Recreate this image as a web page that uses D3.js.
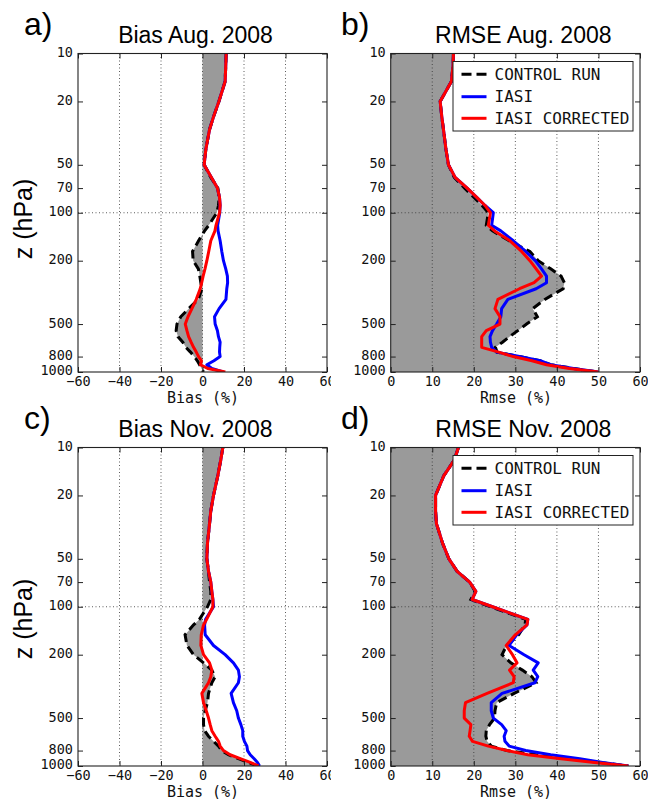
<!DOCTYPE html>
<html>
<head>
<meta charset="utf-8">
<script src="https://cdn.jsdelivr.net/npm/d3@7"></script>
<style>
  body { margin: 0; background: #fff; }
  svg { display: block; }
</style>
</head>
<body>
<svg id="fig" width="648" height="799"></svg>
<script>
// Pressure levels (hPa) shared by every profile
const levels = [10, 12, 15, 20, 25, 30, 40, 50, 60, 70, 80, 90, 100, 120, 130, 150, 175, 200,
  225, 250, 275, 300, 350, 400, 450, 500, 550, 600, 650, 700, 750, 800, 850, 900, 950, 1000];

// Bias, August 2008 (%)
const biasAugControl = [11.4, 11.2, 10.9, 7.9, 5.3, 3.4, 1.6, 0.8, 4.0, 7.4, 8.0, 7.7, 6.9, 3.0, 1.0, -1.9, -4.8, -4.5,
  -2.0, -1.3, -0.8, -0.3, -2.0, -6.7, -10.5, -12.3, -12.7, -11.8, -9.5, -8.0, -5.8, -4.0, -2.5, -1.4, -0.5, 0.5];
const biasAugIasi = [11.4, 11.2, 10.9, 7.9, 5.3, 3.4, 1.6, 0.8, 4.3, 7.2, 8.2, 8.5, 8.3, 7.3, 7.5, 8.5, 9.3, 10.1,
  11.2, 12.0, 12.1, 11.7, 11.3, 8.0, 5.8, 6.1, 7.2, 7.7, 8.5, 8.3, 8.2, 8.5, 5.5, 2.1, 4.5, 10.0];
const biasAugCorrected = [11.4, 11.2, 10.9, 7.9, 5.3, 3.4, 1.6, 0.8, 4.3, 7.2, 8.2, 8.5, 8.2, 6.5, 6.0, 4.0, 3.0, 2.1,
  1.2, 0.3, -0.4, -1.1, -3.0, -5.1, -7.0, -8.3, -7.5, -6.7, -5.5, -4.3, -3.0, -1.9, -0.5, -1.0, 2.5, 11.0];

// RMSE, August 2008 (%)
const rmseAugControl = [15.1, 15.0, 14.6, 11.9, 12.3, 12.7, 13.3, 13.9, 15.3, 17.8, 20.0, 22.0, 23.5, 23.0, 24.5, 28.5, 33.5, 35.5,
  38.5, 41.0, 41.8, 41.5, 37.1, 34.2, 35.3, 32.7, 30.6, 28.6, 26.9, 25.2, 25.6, 31.0, 36.0, 38.5, 44.0, 50.0];
const rmseAugIasi = [15.1, 15.0, 14.6, 11.9, 12.3, 12.7, 13.3, 13.9, 15.5, 18.4, 20.7, 22.7, 24.7, 24.3, 26.5, 29.5, 32.5, 34.8,
  36.3, 37.5, 37.5, 35.0, 28.2, 26.7, 26.5, 25.5, 24.5, 23.9, 24.0, 24.3, 25.5, 31.0, 36.0, 38.5, 44.0, 50.0];
const rmseAugCorrected = [15.1, 15.0, 14.6, 11.9, 12.3, 12.7, 13.3, 13.9, 15.5, 18.4, 20.7, 22.7, 24.0, 23.5, 25.0, 28.7, 31.5, 33.5,
  35.0, 36.3, 34.5, 31.0, 25.8, 25.1, 26.3, 26.3, 23.0, 21.9, 21.9, 21.9, 26.0, 29.5, 34.0, 37.5, 43.0, 50.0];

// Bias, November 2008 (%)
const biasNovControl = [9.8, 8.8, 7.4, 5.3, 4.0, 3.4, 2.4, 2.1, 2.9, 3.4, 4.0, 4.0, 2.4, -1.5, -4.3, -8.4, -7.5, -4.3,
  0.5, 4.5, 6.1, 4.5, 2.9, 2.4, 1.3, 0.5, 0.5, 1.0, 2.9, 5.3, 7.7, 9.3, 12.5, 17.3, 22.2, 26.5];
const biasNovIasi = [9.8, 8.8, 7.4, 5.3, 4.0, 3.4, 2.4, 2.1, 2.9, 4.0, 4.5, 5.0, 5.3, 1.5, 1.0, 1.3, 5.3, 10.9,
  14.9, 17.3, 17.8, 17.3, 13.8, 14.9, 16.5, 17.3, 18.5, 19.4, 19.4, 20.2, 21.4, 21.7, 23.0, 24.9, 26.5, 27.5];
const biasNovCorrected = [9.8, 8.8, 7.4, 5.3, 4.0, 3.4, 2.4, 2.1, 2.9, 4.0, 4.5, 5.0, 5.0, 2.0, 0.5, -0.6, -0.8, 0.5,
  3.4, 4.5, 4.0, 2.9, -0.3, 0.5, 1.8, 2.9, 3.7, 4.5, 6.1, 7.7, 8.5, 10.1, 13.3, 18.2, 23.0, 27.0];

// RMSE, November 2008 (%)
const rmseNovControl = [16.3, 15.3, 12.8, 10.8, 10.8, 11.0, 12.5, 14.0, 16.0, 19.0, 20.3, 19.3, 24.0, 32.5, 32.3, 30.8, 27.9, 26.8,
  28.9, 31.7, 34.0, 35.0, 29.7, 25.5, 25.1, 25.0, 23.8, 23.0, 22.9, 23.2, 24.2, 28.0, 35.0, 43.0, 50.5, 57.2];
const rmseNovIasi = [16.3, 15.3, 12.8, 10.8, 10.8, 11.0, 12.5, 14.0, 16.0, 19.0, 20.5, 19.6, 24.5, 33.0, 32.8, 30.3, 28.5, 32.1,
  35.5, 34.3, 35.4, 34.7, 26.8, 24.2, 24.2, 24.7, 26.7, 27.8, 27.3, 27.5, 28.5, 32.5, 38.5, 45.5, 51.0, 57.2];
const rmseNovCorrected = [16.3, 15.3, 12.8, 10.8, 10.8, 11.0, 12.5, 14.0, 16.0, 19.0, 20.5, 19.6, 24.5, 33.0, 32.8, 30.0, 27.8, 29.3,
  30.4, 28.6, 29.7, 29.5, 23.2, 18.0, 17.7, 17.7, 19.3, 19.1, 18.9, 19.7, 23.5, 28.0, 33.0, 41.0, 49.0, 57.2];

// Axis ticks and labels
const pressureTicks = [10, 20, 50, 70, 100, 200, 500, 800, 1000];
const biasTicks = [-60, -40, -20, 0, 20, 40, 60];
const rmseTicks = [0, 10, 20, 30, 40, 50, 60];
const panelLetters = ["a)", "b)", "c)", "d)"];
const panelTitles = ["Bias Aug. 2008", "RMSE Aug. 2008", "Bias Nov. 2008", "RMSE Nov. 2008"];
const xAxisLabels = ["Bias (%)", "Rmse (%)"];
const yAxisLabel = "z (hPa)";
const legendLabels = ["CONTROL RUN", "IASI", "IASI CORRECTED"];

// ---- layout ----
const MONO = "'DejaVu Sans Mono', monospace";
const SANS = "'Liberation Sans', Arial, sans-serif";
const rows = [
  { top: 53.5, bottom: 372, off: 0, ylabY: 219 },
  { top: 447.5, bottom: 766, off: 394, ylabY: 619 }
];
const cols = [
  { x0: 78, x1: 327, domain: [-60, 60], ticks: biasTicks, titleX: 195.5, letterX: 24, labelX: 203, legend: false },
  { x0: 390.7, x1: 640, domain: [0, 60], ticks: rmseTicks, titleX: 523.3, letterX: 341, labelX: 516, legend: true }
];
const series = [
  [biasAugControl, biasAugIasi, biasAugCorrected],
  [rmseAugControl, rmseAugIasi, rmseAugCorrected],
  [biasNovControl, biasNovIasi, biasNovCorrected],
  [rmseNovControl, rmseNovIasi, rmseNovCorrected]
];
const FILL = "#9a9a9a";
const DASH = "9,5";

const svg = d3.select("#fig");
const defs = svg.append("defs");
const fmtMinus = d => (d < 0 ? "\u2212" + Math.abs(d) : String(d));

// tick labels of the left column stop where the right column begins
defs.append("clipPath").attr("id", "leftTickClip").append("rect")
  .attr("x", 0).attr("y", -20).attr("width", 331).attr("height", 60);

function drawPanel(idx) {
  const r = rows[Math.floor(idx / 2)];
  const c = cols[idx % 2];
  const [control, iasi, corrected] = series[idx];
  const g = svg.append("g");

  const x = d3.scaleLinear().domain(c.domain).range([c.x0, c.x1]);
  const y = d3.scaleLog().domain([10, 1000]).range([r.top, r.bottom]);

  const clipId = "clip" + idx;
  defs.append("clipPath").attr("id", clipId)
    .append("rect").attr("x", c.x0).attr("y", r.top)
    .attr("width", c.x1 - c.x0).attr("height", r.bottom - r.top);

  const plot = g.append("g").attr("clip-path", `url(#${clipId})`);
  const rowsData = levels.map((p, i) => ({ p, ctl: control[i], ia: iasi[i], co: corrected[i] }));

  // shaded region between zero and the control run
  plot.append("path").datum(rowsData)
    .attr("fill", FILL)
    .attr("d", d3.area().y(d => y(d.p)).x0(x(0)).x1(d => x(d.ctl)));

  // dotted grid
  plot.selectAll("line.vg").data(c.ticks.slice(1, -1)).join("line")
    .attr("x1", d => x(d)).attr("x2", d => x(d)).attr("y1", r.top).attr("y2", r.bottom)
    .attr("stroke", "#333").attr("stroke-width", 0.8).attr("stroke-dasharray", "1,2.5");
  plot.append("line")
    .attr("x1", c.x0).attr("x2", c.x1).attr("y1", y(100)).attr("y2", y(100))
    .attr("stroke", "#333").attr("stroke-width", 0.8).attr("stroke-dasharray", "1,2.5");

  const line = key => d3.line().x(d => x(d[key])).y(d => y(d.p));
  plot.append("path").datum(rowsData).attr("fill", "none")
    .attr("stroke", "#000").attr("stroke-width", 3).attr("stroke-dasharray", DASH)
    .attr("d", line("ctl"));
  plot.append("path").datum(rowsData).attr("fill", "none")
    .attr("stroke", "#0000ff").attr("stroke-width", 3).attr("stroke-linejoin", "round")
    .attr("d", line("ia"));
  plot.append("path").datum(rowsData).attr("fill", "none")
    .attr("stroke", "#ff0000").attr("stroke-width", 3).attr("stroke-linejoin", "round")
    .attr("d", line("co"));

  // axes with inward ticks
  const styleAxis = sel => {
    sel.select(".domain").remove();
    sel.selectAll(".tick line").attr("stroke", "#222").attr("stroke-width", 1);
    sel.selectAll(".tick text").attr("font-family", MONO).attr("font-size", "13.5px").attr("fill", "#111");
  };
  g.append("g").attr("transform", `translate(${c.x0},0)`)
    .call(d3.axisLeft(y).tickValues(pressureTicks).tickFormat(d3.format("d")).tickSizeInner(-5).tickSizeOuter(0).tickPadding(5))
    .call(styleAxis)
    .call(sel => sel.selectAll(".tick text").attr("dy", "0.22em"));
  g.append("g").attr("transform", `translate(${c.x1},0)`)
    .call(d3.axisRight(y).tickValues(pressureTicks).tickFormat("").tickSizeInner(-5).tickSizeOuter(0))
    .call(styleAxis);
  const bottomAxis = g.append("g").attr("transform", `translate(0,${r.bottom})`)
    .call(d3.axisBottom(x).tickValues(c.ticks).tickFormat(fmtMinus).tickSizeInner(-5).tickSizeOuter(0).tickPadding(4))
    .call(styleAxis);
  if (idx % 2 === 0) bottomAxis.attr("clip-path", "url(#leftTickClip)");
  g.append("g").attr("transform", `translate(0,${r.top})`)
    .call(d3.axisTop(x).tickValues(c.ticks).tickFormat("").tickSizeInner(-5).tickSizeOuter(0))
    .call(styleAxis);

  // frame
  g.append("rect").attr("x", c.x0).attr("y", r.top)
    .attr("width", c.x1 - c.x0).attr("height", r.bottom - r.top)
    .attr("fill", "none").attr("stroke", "#222").attr("stroke-width", 1.1);

  // texts
  g.append("text").attr("x", c.titleX).attr("y", r.off + 42.7)
    .attr("text-anchor", "middle").attr("font-family", SANS).attr("font-size", "23px")
    .attr("fill", "#000").text(panelTitles[idx]);
  g.append("text").attr("x", c.letterX).attr("y", r.off + 34.5)
    .attr("font-family", SANS).attr("font-size", "32px").attr("fill", "#000")
    .text(panelLetters[idx]);
  g.append("text").attr("x", c.labelX).attr("y", r.off + 402.5)
    .attr("text-anchor", "middle").attr("font-family", MONO).attr("font-size", "15px")
    .attr("fill", "#111").text(xAxisLabels[idx % 2]);
  if (idx % 2 === 0) {
    g.append("text")
      .attr("transform", `translate(32,${r.ylabY}) rotate(-90)`)
      .attr("text-anchor", "middle").attr("font-family", SANS).attr("font-size", "25px")
      .attr("fill", "#000").text(yAxisLabel);
  }

  // legend
  if (c.legend) {
    const lg = g.append("g").attr("transform", `translate(453,${r.off + 61.5})`);
    lg.append("rect").attr("width", 180).attr("height", 69.5)
      .attr("fill", "#fff").attr("stroke", "#222").attr("stroke-width", 1);
    const styles = [
      { stroke: "#000", dash: "10,5" },
      { stroke: "#0000ff", dash: null },
      { stroke: "#ff0000", dash: null }
    ];
    const rowY = [12.8, 35.2, 56.8];
    legendLabels.forEach((lab, i) => {
      lg.append("line").attr("x1", 8.5).attr("x2", 33.5).attr("y1", rowY[i]).attr("y2", rowY[i])
        .attr("stroke", styles[i].stroke).attr("stroke-width", 3)
        .attr("stroke-dasharray", styles[i].dash);
      lg.append("text").attr("x", 41.5).attr("y", rowY[i]).attr("dy", "0.36em")
        .attr("font-family", MONO).attr("font-size", "16px").attr("fill", "#111").text(lab);
    });
  }
}

[0, 2, 1, 3].forEach(drawPanel);
</script>
</body>
</html>
